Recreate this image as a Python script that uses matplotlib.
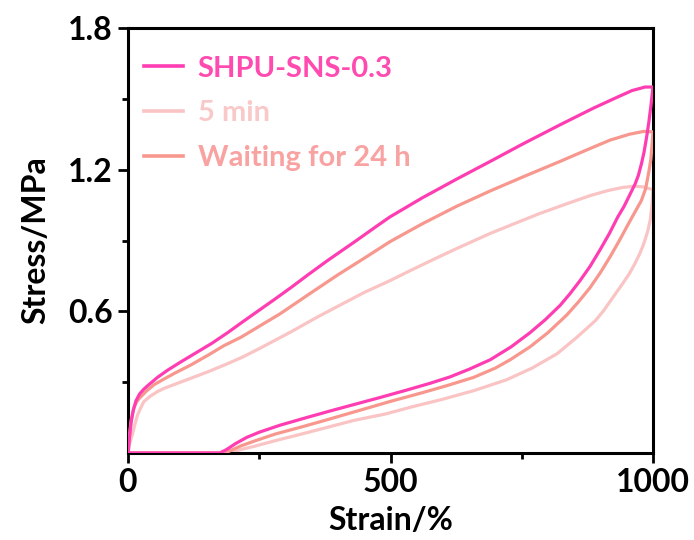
import numpy as np
import matplotlib
matplotlib.use("Agg")
import matplotlib.pyplot as plt
from matplotlib.lines import Line2D

plt.rcParams["font.family"] = ["Lato", "DejaVu Sans"]
plt.rcParams["font.weight"] = "bold"

# SHPU-SNS-0.3, first loading/unloading cycle
shpu_load_strain = [0, 3, 6, 10, 15, 22, 30, 40, 56, 75, 100, 130, 160, 190, 220, 250, 280, 310, 343,
                    380, 432, 470, 499, 560, 626, 690, 753, 823, 886, 930, 960, 985, 1000]
shpu_load_stress = [0, 0.07, 0.13, 0.18, 0.22, 0.25, 0.27, 0.29, 0.32, 0.35, 0.385, 0.425, 0.465, 0.51,
                    0.558, 0.605, 0.652, 0.70, 0.755, 0.815, 0.895, 0.955, 1.0, 1.08, 1.16, 1.235, 1.31,
                    1.39, 1.46, 1.505, 1.535, 1.55, 1.55]
shpu_unload_strain = [1000, 996, 992, 988, 983, 978, 972, 966, 955, 945, 933, 917, 899, 880, 861, 842,
                      823, 795, 766, 730, 690, 650, 613, 575, 530, 480, 430, 385, 340, 290, 250, 226,
                      205, 188, 175, 0]
shpu_unload_stress = [1.55, 1.47, 1.40, 1.34, 1.275, 1.225, 1.175, 1.14, 1.09, 1.045, 1.0, 0.93, 0.86,
                      0.79, 0.73, 0.675, 0.625, 0.565, 0.51, 0.45, 0.395, 0.355, 0.322, 0.295, 0.266,
                      0.235, 0.205, 0.178, 0.15, 0.118, 0.088, 0.066, 0.04, 0.015, 0, 0]

# reloaded after 5 min rest
min5_load_strain = [0, 3, 8, 13, 18, 24, 30, 42, 56, 70, 88, 119, 150, 183, 217, 250, 312, 360, 407,
                    450, 499, 540, 582, 630, 690, 740, 785, 835, 880, 915, 943, 965, 982, 1000]
min5_load_stress = [0, 0.04, 0.076, 0.12, 0.16, 0.19, 0.217, 0.24, 0.26, 0.275, 0.29, 0.316, 0.342,
                    0.372, 0.405, 0.442, 0.515, 0.575, 0.63, 0.68, 0.73, 0.775, 0.82, 0.87, 0.93, 0.975,
                    1.015, 1.055, 1.09, 1.112, 1.125, 1.13, 1.127, 1.115]
min5_unload_strain = [1000, 998, 995, 990, 983, 975, 965, 955, 943, 924, 905, 890, 855, 817, 770, 721,
                      660, 600, 540, 490, 430, 375, 330, 280, 240, 210, 195, 0]
min5_unload_stress = [1.115, 1.05, 0.99, 0.94, 0.89, 0.845, 0.80, 0.76, 0.72, 0.66, 0.60, 0.56, 0.49,
                      0.42, 0.36, 0.31, 0.265, 0.228, 0.195, 0.165, 0.138, 0.106, 0.08, 0.052, 0.028,
                      0.012, 0, 0]

# reloaded after 24 h rest
h24_load_strain = [0, 3, 6, 11, 16, 21, 34, 50, 70, 88, 119, 153, 183, 215, 248, 290, 343, 400, 450,
                   499, 560, 626, 690, 753, 823, 870, 918, 955, 982, 1000]
h24_load_stress = [0, 0.08, 0.14, 0.19, 0.215, 0.23, 0.26, 0.29, 0.315, 0.337, 0.372, 0.415, 0.455,
                   0.49, 0.534, 0.59, 0.67, 0.755, 0.825, 0.895, 0.97, 1.045, 1.11, 1.17, 1.235, 1.28,
                   1.325, 1.35, 1.362, 1.36]
h24_unload_strain = [1000, 998, 996, 992, 986, 978, 968, 953, 936, 918, 900, 880, 858, 836, 800, 766,
                     728, 700, 658, 607, 560, 499, 440, 375, 330, 280, 240, 215, 198, 185, 0]
h24_unload_stress = [1.36, 1.30, 1.245, 1.19, 1.12, 1.07, 1.03, 0.97, 0.90, 0.83, 0.765, 0.70, 0.64,
                     0.585, 0.51, 0.45, 0.395, 0.36, 0.32, 0.285, 0.255, 0.218, 0.18, 0.138, 0.11,
                     0.08, 0.05, 0.03, 0.013, 0, 0]

labels = ["SHPU-SNS-0.3", "5 min", "Waiting for 24 h"]
line_colors = ["#FF3DB2", "#FAC4C4", "#F7978E"]
text_colors = ["#FF4AB0", "#F9C8C8", "#F9A2A2"]

fig = plt.figure(figsize=(6.94, 5.40), dpi=100)
ax = fig.add_axes([128 / 694, 87 / 540, 525 / 694, 425 / 540])

series = [
    (shpu_load_strain, shpu_load_stress, shpu_unload_strain, shpu_unload_stress),
    (min5_load_strain, min5_load_stress, min5_unload_strain, min5_unload_stress),
    (h24_load_strain, h24_load_stress, h24_unload_strain, h24_unload_stress),
]
zorders = [4, 2, 3]
handles = []
for (lx, ly, ux, uy), c, z in zip(series, line_colors, zorders):
    x = np.concatenate([lx, ux])
    y = np.concatenate([ly, uy])
    ax.plot(x, y, color=c, lw=2.3, zorder=z, solid_joinstyle="round", solid_capstyle="round")
    handles.append(Line2D([], [], color=c, lw=2.6))

ax.set_xlim(0, 1000)
ax.set_ylim(0, 1.8)
ax.set_xticks([0, 500, 1000])
ax.set_xticks([250, 750], minor=True)
ax.set_yticks([0.6, 1.2, 1.8])
ax.set_yticks([0.3, 0.9, 1.5], minor=True)
ax.set_yticklabels(["0.6", "1.2", "1.8"])
ax.tick_params(which="major", direction="out", length=7, width=2, labelsize=23, pad=4)
ax.tick_params(which="minor", direction="out", length=4, width=2)
for s in ax.spines.values():
    s.set_linewidth(2.2)

ax.set_xlabel("Strain/%", fontsize=23, fontweight="bold", labelpad=6)
ax.set_ylabel("Stress/MPa", fontsize=23, fontweight="bold", labelpad=13)

leg = ax.legend(handles, labels, loc="upper left", bbox_to_anchor=(0.03, 0.935),
                frameon=False, fontsize=21, handlelength=1.35, handletextpad=0.5,
                labelspacing=0.64, borderaxespad=0, borderpad=0)
for t, c in zip(leg.get_texts(), text_colors):
    t.set_color(c)
    t.set_fontweight("bold")

fig.savefig("out.png", dpi=100)
